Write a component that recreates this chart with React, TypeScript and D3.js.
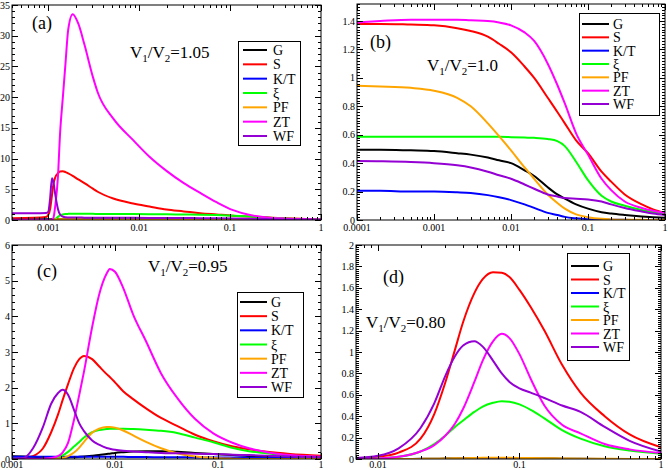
import React, { useRef, useEffect } from "react";
import * as d3 from "d3";

const names = ["G", "S", "K/T", "ξ", "PF", "ZT", "WF"];
const colors = ["#000000", "#ff0000", "#0000ff", "#00ff00", "#ffa500", "#ff00ff", "#9400d3"];

// (a) V1/V2 = 1.05
const aX = [0.0004, 0.0007, 0.00095, 0.001, 0.00105, 0.0011, 0.00114, 0.0012, 0.00128, 0.00135, 0.00145, 0.00155, 0.00166, 0.00186, 0.00214, 0.0025, 0.0031, 0.0035, 0.0052, 0.0086, 0.013, 0.02, 0.031, 0.047, 0.071, 0.108, 0.166, 0.25, 0.39, 0.6, 1];
const aG = [0.12, 0.12, 0.12, 0.13, 0.14, 0.15, 0.16, 0.17, 0.18, 0.18, 0.18, 0.18, 0.18, 0.17, 0.17, 0.16, 0.16, 0.15, 0.15, 0.14, 0.13, 0.12, 0.11, 0.1, 0.09, 0.08, 0.07, 0.05, 0.04, 0.03, 0.02];
const aS = [0.3, 0.35, 0.5, 0.8, 1.8, 4.0, 5.8, 7.0, 7.6, 7.9, 7.95, 7.8, 7.6, 7.2, 6.6, 6.0, 5.1, 4.6, 3.5, 2.7, 2.2, 1.7, 1.4, 1.1, 0.9, 0.7, 0.55, 0.43, 0.3, 0.2, 0.1];
const aKT = [0.05, 0.05, 0.05, 0.05, 0.05, 0.05, 0.05, 0.05, 0.05, 0.05, 0.05, 0.05, 0.05, 0.05, 0.05, 0.05, 0.05, 0.05, 0.05, 0.05, 0.05, 0.04, 0.04, 0.04, 0.04, 0.03, 0.03, 0.02, 0.02, 0.01, 0.01];
const aXi = [0, 0, 0, 0, 0, 0, 0, 0.2, 0.5, 0.75, 0.9, 0.97, 1.0, 1.02, 1.0, 1.0, 1.0, 0.99, 0.98, 0.96, 0.94, 0.92, 0.9, 0.86, 0.8, 0.7, 0.55, 0.4, 0.25, 0.14, 0.07];
const aPF = [0.02, 0.02, 0.02, 0.02, 0.03, 0.05, 0.07, 0.09, 0.1, 0.11, 0.11, 0.11, 0.11, 0.11, 0.11, 0.1, 0.1, 0.1, 0.09, 0.08, 0.07, 0.06, 0.05, 0.04, 0.03, 0.02, 0.02, 0.01, 0.01, 0.01, 0];
const aZT = [0, 0, 0, 0, 0, 0.05, 0.3, 2.5, 7, 14, 20, 25.5, 31, 33.5, 32, 28.6, 23.3, 20.8, 16.5, 13, 10.3, 8.0, 6.0, 4.4, 2.9, 1.6, 0.8, 0.42, 0.25, 0.16, 0.1];
const aWF = [1.1, 1.1, 1.15, 1.3, 3.5, 6.8, 6.2, 4.0, 1.8, 0.9, 0.55, 0.45, 0.42, 0.4, 0.4, 0.38, 0.37, 0.37, 0.36, 0.35, 0.34, 0.33, 0.32, 0.3, 0.28, 0.25, 0.2, 0.15, 0.1, 0.07, 0.05];

// (b) V1/V2 = 1.0
const bX = [0.0001, 0.0002, 0.0005, 0.001, 0.002, 0.003, 0.005, 0.007, 0.01, 0.015, 0.02, 0.03, 0.04, 0.05, 0.07, 0.1, 0.15, 0.2, 0.3, 0.5, 0.7, 1];
const bG = [0.495, 0.495, 0.49, 0.485, 0.47, 0.46, 0.44, 0.42, 0.4, 0.35, 0.31, 0.23, 0.18, 0.15, 0.11, 0.08, 0.055, 0.045, 0.035, 0.025, 0.02, 0.015];
const bS = [1.38, 1.38, 1.375, 1.37, 1.35, 1.33, 1.29, 1.24, 1.18, 1.08, 1.0, 0.86, 0.76, 0.68, 0.56, 0.47, 0.34, 0.27, 0.18, 0.11, 0.075, 0.05];
const bKT = [0.205, 0.205, 0.2, 0.2, 0.195, 0.19, 0.175, 0.16, 0.14, 0.11, 0.085, 0.05, 0.035, 0.022, 0.012, 0.006, 0.003, 0.002, 0.001, 0, 0, 0];
const bXi = [0.585, 0.585, 0.585, 0.585, 0.585, 0.585, 0.585, 0.585, 0.583, 0.58, 0.578, 0.57, 0.555, 0.52, 0.41, 0.28, 0.17, 0.13, 0.1, 0.07, 0.055, 0.04];
const bPF = [0.945, 0.94, 0.93, 0.91, 0.86, 0.8, 0.68, 0.59, 0.49, 0.37, 0.29, 0.18, 0.12, 0.08, 0.04, 0.02, 0.008, 0.004, 0.002, 0.001, 0, 0];
const bZT = [1.39, 1.4, 1.41, 1.41, 1.41, 1.405, 1.4, 1.39, 1.37, 1.32, 1.26, 1.1, 0.95, 0.82, 0.61, 0.46, 0.29, 0.21, 0.13, 0.085, 0.065, 0.05];
const bWF = [0.415, 0.413, 0.408, 0.4, 0.385, 0.37, 0.34, 0.315, 0.29, 0.25, 0.22, 0.18, 0.165, 0.155, 0.15, 0.145, 0.13, 0.11, 0.085, 0.06, 0.045, 0.035];

// (c) V1/V2 = 0.95
const cX = [0.001, 0.0013, 0.0016, 0.002, 0.0024, 0.0028, 0.0031, 0.0035, 0.004, 0.0045, 0.005, 0.006, 0.007, 0.0083, 0.0089, 0.01, 0.012, 0.015, 0.02, 0.028, 0.04, 0.06, 0.09, 0.14, 0.2, 0.3, 0.5, 1];
const cG = [0.08, 0.07, 0.06, 0.05, 0.04, 0.04, 0.04, 0.045, 0.05, 0.06, 0.07, 0.09, 0.11, 0.14, 0.15, 0.17, 0.19, 0.21, 0.22, 0.22, 0.2, 0.17, 0.14, 0.11, 0.08, 0.06, 0.04, 0.02];
const cS = [0, 0.02, 0.08, 0.3, 0.75, 1.25, 1.65, 2.1, 2.55, 2.8, 2.89, 2.8, 2.6, 2.38, 2.3, 2.15, 1.9, 1.68, 1.42, 1.15, 0.93, 0.68, 0.5, 0.35, 0.27, 0.2, 0.14, 0.09];
const cKT = [0.06, 0.06, 0.06, 0.06, 0.06, 0.06, 0.06, 0.06, 0.06, 0.06, 0.06, 0.06, 0.06, 0.06, 0.06, 0.06, 0.06, 0.055, 0.055, 0.05, 0.05, 0.045, 0.045, 0.04, 0.04, 0.035, 0.035, 0.03];
const cXi = [0, 0, 0, 0, 0.01, 0.05, 0.1, 0.2, 0.35, 0.48, 0.6, 0.75, 0.81, 0.84, 0.85, 0.85, 0.85, 0.84, 0.82, 0.79, 0.73, 0.6, 0.47, 0.31, 0.22, 0.16, 0.09, 0.05];
const cPF = [0, 0, 0, 0, 0, 0.01, 0.03, 0.08, 0.18, 0.32, 0.48, 0.74, 0.85, 0.9, 0.9, 0.88, 0.8, 0.66, 0.48, 0.3, 0.16, 0.07, 0.03, 0.01, 0, 0, 0, 0];
const cZT = [0, 0, 0, 0.01, 0.03, 0.08, 0.18, 0.45, 1.1, 1.8, 2.45, 3.7, 4.6, 5.2, 5.33, 5.25, 4.8, 4.05, 3.3, 2.4, 1.72, 1.12, 0.72, 0.45, 0.3, 0.19, 0.11, 0.06];
const cWF = [0, 0.03, 0.3, 0.9, 1.55, 1.85, 1.94, 1.8, 1.38, 1.0, 0.78, 0.52, 0.4, 0.31, 0.29, 0.26, 0.23, 0.21, 0.19, 0.17, 0.16, 0.15, 0.14, 0.12, 0.11, 0.09, 0.07, 0.05];

// (d) V1/V2 = 0.80
const dX = [0.007, 0.01, 0.014, 0.02, 0.025, 0.03, 0.035, 0.04, 0.048, 0.055, 0.065, 0.075, 0.085, 0.1, 0.12, 0.15, 0.2, 0.27, 0.4, 0.6, 1];
const dG = [0, 0, 0, 0.002, 0.003, 0.004, 0.005, 0.005, 0.006, 0.006, 0.006, 0.006, 0.006, 0.005, 0.005, 0.004, 0.003, 0.002, 0.001, 0.001, 0];
const dS = [0.005, 0.02, 0.06, 0.19, 0.42, 0.72, 1.02, 1.28, 1.55, 1.68, 1.745, 1.74, 1.7, 1.58, 1.42, 1.2, 0.88, 0.62, 0.4, 0.23, 0.11];
const dKT = [0, 0, 0, 0, 0, 0.001, 0.001, 0.002, 0.002, 0.002, 0.002, 0.002, 0.002, 0.002, 0.002, 0.001, 0.001, 0.001, 0, 0, 0];
const dXi = [0, 0.005, 0.02, 0.07, 0.14, 0.22, 0.3, 0.36, 0.44, 0.49, 0.525, 0.54, 0.535, 0.51, 0.46, 0.38, 0.27, 0.19, 0.12, 0.08, 0.05];
const dPF = [0, 0, 0, 0.001, 0.002, 0.004, 0.006, 0.008, 0.01, 0.011, 0.012, 0.012, 0.011, 0.01, 0.009, 0.007, 0.005, 0.003, 0.002, 0.001, 0];
const dZT = [0, 0.005, 0.02, 0.07, 0.13, 0.22, 0.33, 0.47, 0.72, 0.92, 1.1, 1.17, 1.13, 0.98, 0.75, 0.5, 0.32, 0.24, 0.14, 0.09, 0.055];
const dWF = [0.01, 0.03, 0.1, 0.29, 0.52, 0.78, 0.96, 1.06, 1.1, 1.05, 0.92, 0.8, 0.72, 0.66, 0.62, 0.57, 0.5, 0.44, 0.3, 0.17, 0.07];

const oneDec = (v) => (v === 0 || v === 1 || v === 2 ? String(v) : d3.format(".1f")(v));

const panels = [
  {
    id: "a", xs: aX, series: [aG, aS, aKT, aXi, aPF, aZT, aWF],
    xDomain: [0.0004, 1], yMax: 35, yStep: 5, yMinor: 1, yFmt: (v) => d3.format("d")(v),
    box: [12, 5, 321, 220], xLab: 11, legend: [238, 41, 62, 104, 50, 243, 267, 273],
    tag: [32, 29], ratio: [130, 58, "1.05"],
  },
  {
    id: "b", xs: bX, series: [bG, bS, bKT, bXi, bPF, bZT, bWF],
    xDomain: [0.0001, 1], yMax: 1.52, yStep: 0.2, yMinor: 0.02, yFmt: oneDec,
    box: [357, 4, 665, 220], xLab: 11, legend: [579, 13, 80, 102, 24, 582, 609, 613],
    tag: [370, 48], ratio: [427, 71, "1.0"],
  },
  {
    id: "c", xs: cX, series: [cG, cS, cKT, cXi, cPF, cZT, cWF],
    xDomain: [0.001, 1], yMax: 6, yStep: 1, yMinor: 0.2, yFmt: (v) => d3.format("d")(v),
    box: [12, 245, 321, 459], xLab: 9, legend: [237, 292, 66, 105, 302, 240, 267, 271],
    tag: [37, 277], ratio: [148, 272, "0.95"],
  },
  {
    id: "d", xs: dX, series: [dG, dS, dKT, dXi, dPF, dZT, dWF],
    xDomain: [0.007, 1], yMax: 2, yStep: 0.2, yMinor: 0.02, yFmt: oneDec,
    box: [356, 245, 661, 459], xLab: 9, legend: [567, 253, 62, 107, 266, 571, 599, 603],
    tag: [383, 283], ratio: [366, 328, "0.80"],
  },
];

const serif = "'Liberation Serif', 'DejaVu Serif', serif";

function Panel({ cfg }) {
  const gRef = useRef(null);

  useEffect(() => {
    const g = d3.select(gRef.current);
    g.selectAll("*").remove();
    const [left, top, right, bottom] = cfg.box;

    const x = d3.scaleLog().domain(cfg.xDomain).range([left, right]);
    const y = d3.scaleLinear().domain([0, cfg.yMax]).range([bottom, top]);

    g.append("clipPath").attr("id", "clip-" + cfg.id)
      .append("rect").attr("x", left).attr("y", top)
      .attr("width", right - left).attr("height", bottom - top);

    // curves
    const line = d3.line().x((d) => x(d[0])).y((d) => y(d[1])).curve(d3.curveMonotoneX);
    const curves = g.append("g").attr("clip-path", `url(#clip-${cfg.id})`);
    cfg.series.forEach((ys, i) => {
      curves.append("path")
        .attr("d", line(cfg.xs.map((xv, j) => [xv, ys[j]])))
        .attr("fill", "none")
        .attr("stroke", colors[i])
        .attr("stroke-width", 2)
        .attr("stroke-linejoin", "round");
    });

    // frame
    g.append("rect").attr("x", left).attr("y", top)
      .attr("width", right - left).attr("height", bottom - top)
      .attr("fill", "none").attr("stroke", "#000").attr("stroke-width", 1);

    // x ticks, pointing inward on top and bottom
    const allX = x.ticks().filter((v) => v >= cfg.xDomain[0] * 0.999 && v <= cfg.xDomain[1] * 1.001);
    const isMajor = (v) => Math.abs(Math.log10(v) - Math.round(Math.log10(v))) < 1e-6;
    allX.forEach((v) => {
      const len = isMajor(v) ? 6 : 3;
      const px = Math.round(x(v)) + 0.5;
      g.append("line").attr("x1", px).attr("x2", px).attr("y1", bottom).attr("y2", bottom - len).attr("stroke", "#000");
      g.append("line").attr("x1", px).attr("x2", px).attr("y1", top).attr("y2", top + len).attr("stroke", "#000");
      if (isMajor(v)) {
        g.append("text").attr("x", x(v)).attr("y", bottom + cfg.xLab)
          .attr("text-anchor", "middle").attr("font-family", serif).attr("font-size", 10)
          .text(String(+v.toPrecision(1)));
      }
    });

    // y ticks, pointing inward on left and right
    const nMinor = Math.round(cfg.yMax / cfg.yMinor);
    d3.range(0, nMinor + 1).forEach((k) => {
      const v = k * cfg.yMinor;
      if (v > cfg.yMax + 1e-9) return;
      const major = Math.abs(v / cfg.yStep - Math.round(v / cfg.yStep)) < 1e-6;
      const len = major ? 6 : 3;
      const py = Math.round(y(v)) + 0.5;
      g.append("line").attr("x1", left).attr("x2", left + len).attr("y1", py).attr("y2", py).attr("stroke", "#000");
      g.append("line").attr("x1", right).attr("x2", right - len).attr("y1", py).attr("y2", py).attr("stroke", "#000");
      if (major) {
        g.append("text").attr("x", left - 2).attr("y", y(v)).attr("dy", "0.35em")
          .attr("text-anchor", "end").attr("font-family", serif).attr("font-size", 10)
          .text(cfg.yFmt(Math.round(v * 100) / 100));
      }
    });

    // legend
    const [lx, ly, lw, lh, row0, l1, l2, tx] = cfg.legend;
    g.append("rect").attr("x", lx + 0.5).attr("y", ly + 0.5).attr("width", lw).attr("height", lh)
      .attr("fill", "#fff").attr("stroke", "#000").attr("stroke-width", 1);
    const step = (lh - 2 * (row0 - ly)) / 6;
    names.forEach((nm, i) => {
      const ry = row0 + i * step;
      g.append("line").attr("x1", l1).attr("x2", l2).attr("y1", ry).attr("y2", ry)
        .attr("stroke", colors[i]).attr("stroke-width", 2);
      g.append("text").attr("x", tx).attr("y", ry).attr("dy", "0.36em")
        .attr("font-family", serif).attr("font-size", 14).text(nm);
    });

    // panel tag and ratio label
    g.append("text").attr("x", cfg.tag[0]).attr("y", cfg.tag[1])
      .attr("font-family", serif).attr("font-size", 18).text(`(${cfg.id})`);
    const r = g.append("text").attr("x", cfg.ratio[0]).attr("y", cfg.ratio[1])
      .attr("font-family", serif).attr("font-size", 17);
    r.append("tspan").text("V");
    r.append("tspan").attr("dy", 4).attr("font-size", 11).text("1");
    r.append("tspan").attr("dy", -4).text("/V");
    r.append("tspan").attr("dy", 4).attr("font-size", 11).text("2");
    r.append("tspan").attr("dy", -4).text("=" + cfg.ratio[2]);
  }, [cfg]);

  return <g ref={gRef} />;
}

export default function App() {
  return (
    <svg width={668} height={470} style={{ position: "absolute", left: 0, top: 0, background: "#fff" }}>
      {panels.map((p) => (
        <Panel key={p.id} cfg={p} />
      ))}
    </svg>
  );
}
